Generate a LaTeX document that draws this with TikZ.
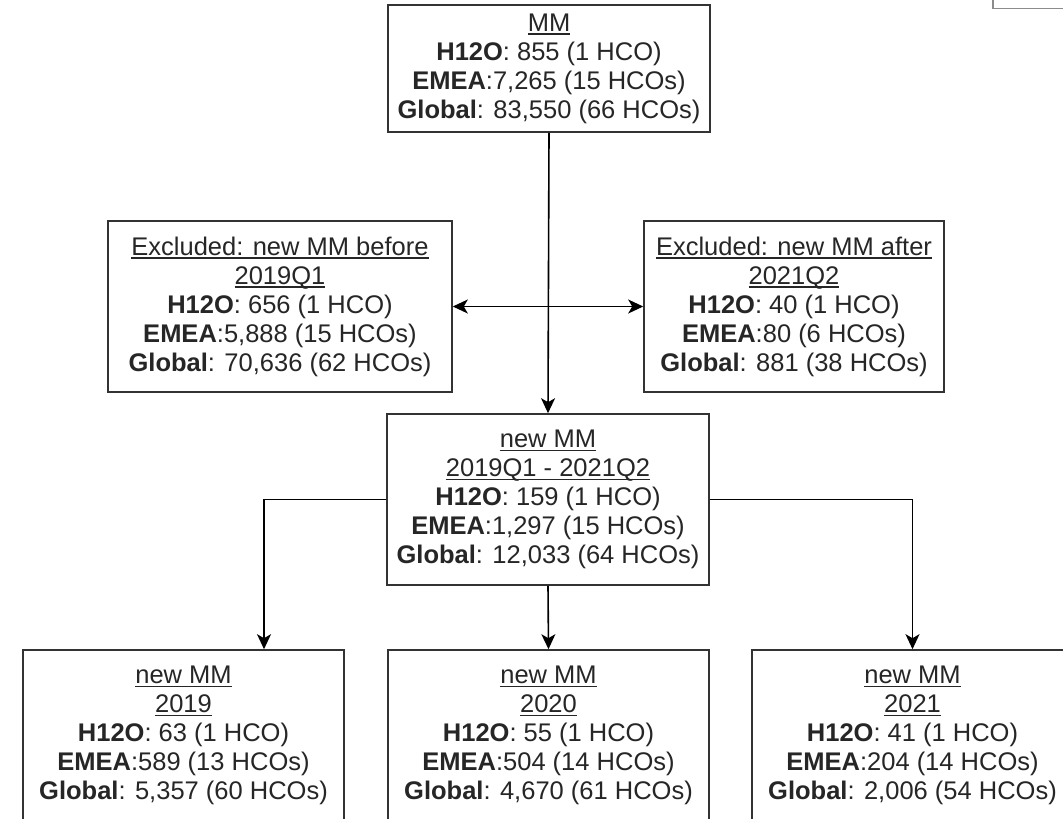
\documentclass[tikz,border=0pt]{standalone}
\usepackage{fontspec}
\setmainfont{Liberation Sans}
\usetikzlibrary{arrows.meta}
\newcommand\myul[1]{\setbox0\hbox{#1}\rlap{\rule[-3.5pt]{\wd0}{1.3pt}}\box0}
\tikzset{
  box/.style={draw=black!80, line width=1.6pt, fill=white, align=center, inner sep=0pt,
    font=\fontsize{25.5}{29}\selectfont, text=black!85},
  arr/.style={draw=black, line width=1.6pt, -{Stealth[length=15pt,width=14pt,inset=4pt]}}
}
\begin{document}
\begin{tikzpicture}[x=1pt,y=-1pt]
\path[use as bounding box, clip] (0,0) rectangle (1063,819);
\fill[white] (0,0) rectangle (1063,819);

\node[draw=black!45, line width=1.5pt, minimum width=150pt, minimum height=60pt, anchor=south west] (corner) at (992,9) {};

\node[box, minimum width=322pt, minimum height=127pt] (top) at (549,68.5)
  {\myul{MM}\\ \textbf{H12O}: 855 (1 HCO)\\ \textbf{EMEA}:7,265 (15 HCOs)\\ \textbf{Global}: 83,550 (66 HCOs)};

\node[box, minimum width=344pt, minimum height=171pt] (left) at (280,306.5)
  {\myul{Excluded: new MM before}\\ \myul{2019Q1}\\ \textbf{H12O}: 656 (1 HCO)\\ \textbf{EMEA}:5,888 (15 HCOs)\\ \textbf{Global}: 70,636 (62 HCOs)};

\node[box, minimum width=300pt, minimum height=171pt] (right) at (794,306.5)
  {\myul{Excluded: new MM after}\\ \myul{2021Q2}\\ \textbf{H12O}: 40 (1 HCO)\\ \textbf{EMEA}:80 (6 HCOs)\\ \textbf{Global}: 881 (38 HCOs)};

\node[box, minimum width=322pt, minimum height=171pt] (mid) at (548,499.5)
  {\myul{new MM}\\ \myul{2019Q1 - 2021Q2}\\ \textbf{H12O}: 159 (1 HCO)\\ \textbf{EMEA}:1,297 (15 HCOs)\\ \textbf{Global}: 12,033 (64 HCOs)};

\node[box, minimum width=321pt, minimum height=171pt] (bl) at (183.5,735.5)
  {\myul{new MM}\\ \myul{2019}\\ \textbf{H12O}: 63 (1 HCO)\\ \textbf{EMEA}:589 (13 HCOs)\\ \textbf{Global}: 5,357 (60 HCOs)};

\node[box, minimum width=321pt, minimum height=171pt] (bm) at (548.5,735.5)
  {\myul{new MM}\\ \myul{2020}\\ \textbf{H12O}: 55 (1 HCO)\\ \textbf{EMEA}:504 (14 HCOs)\\ \textbf{Global}: 4,670 (61 HCOs)};

\node[box, minimum width=321pt, minimum height=171pt] (br) at (912.5,735.5)
  {\myul{new MM}\\ \myul{2021}\\ \textbf{H12O}: 41 (1 HCO)\\ \textbf{EMEA}:204 (14 HCOs)\\ \textbf{Global}: 2,006 (54 HCOs)};

\coordinate (j) at (548.5,306.5);
\coordinate (blt) at ([xshift=80.5pt]bl.north);

\draw[arr] (top.south) -- (mid.north);
\draw[arr] (j) -- (left.east);
\draw[arr] (j) -- (right.west);
\draw[arr] (mid.west) -| (blt);
\draw[arr] (mid.south) -- (bm.north);
\draw[arr] (mid.east) -| (br.north);
\end{tikzpicture}
\end{document}
